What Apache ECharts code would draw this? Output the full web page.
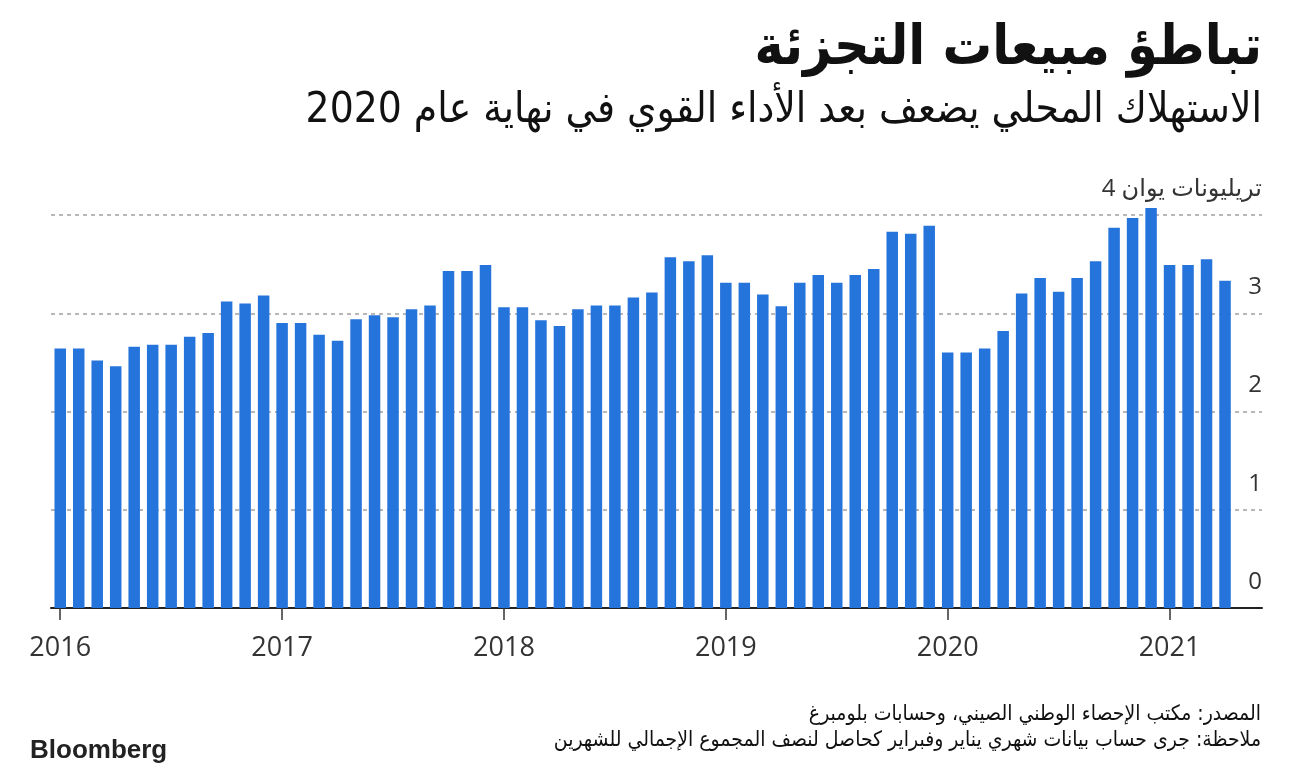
<!DOCTYPE html>
<html>
<head>
<meta charset="utf-8">
<script src="https://cdn.jsdelivr.net/npm/echarts@6/dist/echarts.min.js"></script>
<style>
html,body{margin:0;padding:0;background:#fff;}
#chart{width:1297px;height:774px;}
</style>
</head>
<body>
<div id="chart"></div>
<script>
// ---- data ----
const titleText = 'تباطؤ مبيعات التجزئة';
const subtitleText = 'الاستهلاك المحلي يضعف بعد الأداء القوي في نهاية عام 2020';
const sourceText = 'المصدر: مكتب الإحصاء الوطني الصيني، وحسابات بلومبرغ';
const noteText = 'ملاحظة: جرى حساب بيانات شهري يناير وفبراير كحاصل لنصف المجموع الإجمالي للشهرين';
const unitText = 'تريليونات يوان';
const yearLabels = ['2016', '2017', '2018', '2019', '2020', '2021'];
// monthly retail sales, trillion yuan (Jan 2016 .. Apr 2021)
const sales2016 = [2.64, 2.64, 2.52, 2.46, 2.66, 2.68, 2.68, 2.76, 2.80, 3.12, 3.10, 3.18];
const sales2017 = [2.90, 2.90, 2.78, 2.72, 2.94, 2.98, 2.96, 3.04, 3.08, 3.43, 3.43, 3.49];
const sales2018 = [3.06, 3.06, 2.93, 2.87, 3.04, 3.08, 3.08, 3.16, 3.21, 3.57, 3.53, 3.59];
const sales2019 = [3.31, 3.31, 3.19, 3.07, 3.31, 3.39, 3.31, 3.39, 3.45, 3.83, 3.81, 3.89];
const sales2020 = [2.60, 2.60, 2.64, 2.82, 3.20, 3.36, 3.22, 3.36, 3.53, 3.87, 3.97, 4.07];
const sales2021 = [3.49, 3.49, 3.55, 3.33];
const yTicks = [0, 1, 2, 3, 4];

const allSales = [].concat(sales2016, sales2017, sales2018, sales2019, sales2020, sales2021);
// x position = month index (centre of each month slot)
const seriesData = allSales.map((v, i) => [i + 0.5, v]);
const yearTickPos = yearLabels.map((y, k) => k * 12 + 0.5);

const arabicFont = '"DejaVu Sans Condensed", "DejaVu Sans", sans-serif';
const numFont = '"Open Sans", "DejaVu Sans", sans-serif';

const chart = echarts.init(document.getElementById('chart'), null, {renderer: 'canvas'});
chart.setOption({
  backgroundColor: '#ffffff',
  animation: false,
  title: [
    {text: titleText, right: 30, top: 17,
     textStyle: {fontFamily: arabicFont, fontWeight: 'bold', fontSize: 55, color: '#111'}},
    {text: subtitleText, right: 30, top: 85,
     textStyle: {fontFamily: arabicFont, fontWeight: 'normal', fontSize: 42, color: '#111'}},
    {text: sourceText, right: 31, top: 699,
     textStyle: {fontFamily: arabicFont, fontWeight: 'normal', fontSize: 21, color: '#111'}},
    {text: noteText, right: 31, top: 725,
     textStyle: {fontFamily: arabicFont, fontWeight: 'normal', fontSize: 21, color: '#111'}},
    {text: 'Bloomberg', left: 25, top: 733,
     textStyle: {fontFamily: '"Liberation Sans", Arial, sans-serif', fontWeight: 'bold', fontSize: 26, color: '#222'}}
  ],
  grid: {left: 51, right: 35, top: 215, bottom: 166, containLabel: false},
  xAxis: {
    type: 'value', min: 0, max: 65.5,
    splitLine: {show: false},
    axisLine: {show: true, lineStyle: {color: '#222', width: 2}},
    axisTick: {show: true, customValues: yearTickPos, length: 12, lineStyle: {color: '#333', width: 1.5}},
    axisLabel: {
      show: true, customValues: yearTickPos, margin: 27,
      fontFamily: numFont, fontSize: 27, color: '#333',
      formatter: function (v) { return yearLabels[Math.round((v - 0.5) / 12)]; }
    }
  },
  yAxis: {
    type: 'value', position: 'right', min: 0, max: 4, interval: 1,
    axisLine: {show: false},
    axisTick: {show: false},
    splitLine: {show: true, lineStyle: {color: '#a0a0a0', width: 1.5, type: [4, 4]}},
    axisLabel: {
      inside: true, margin: 0, align: 'right', verticalAlign: 'bottom',
      padding: [0, 0, 14, 0],
      fontFamily: numFont, fontSize: 24, color: '#333',
      formatter: function (v) { return v === 4 ? unitText + ' ' + v : String(v); }
    }
  },
  series: [{
    type: 'bar', data: seriesData, barWidth: 11.5, clip: false,
    itemStyle: {color: '#2574DB'}
  }]
});
</script>
</body>
</html>
